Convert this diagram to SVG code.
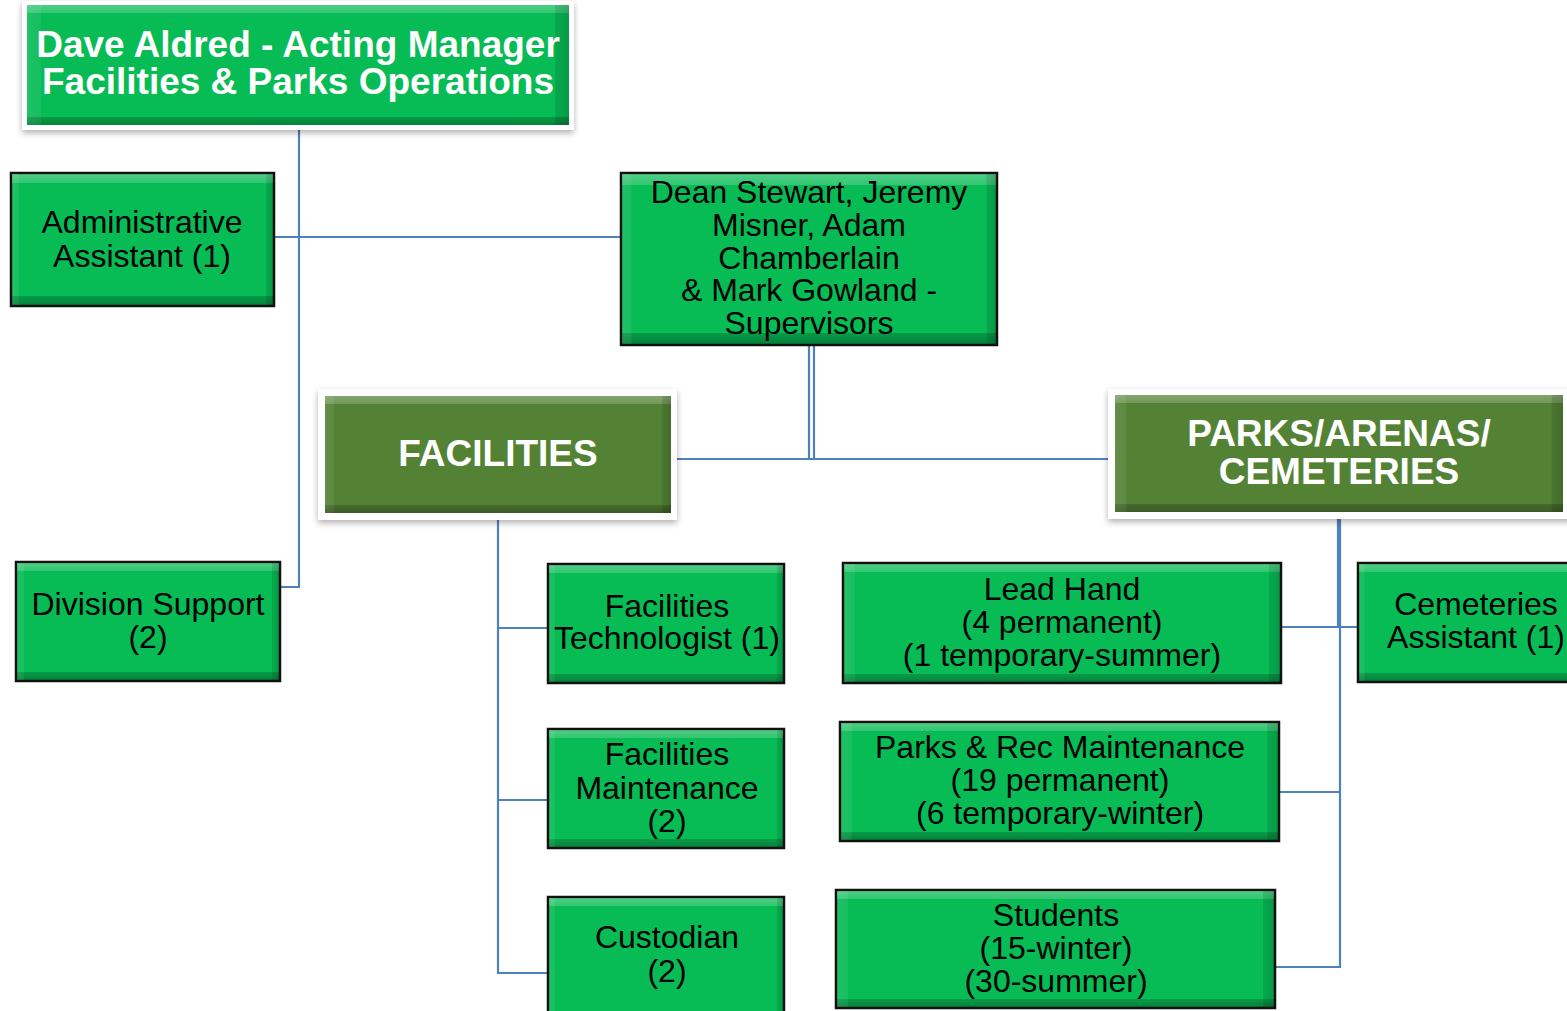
<svg xmlns="http://www.w3.org/2000/svg" width="1567" height="1011" viewBox="0 0 1567 1011">
<defs>
<linearGradient id="bevV" x1="0" y1="0" x2="0" y2="1">
<stop offset="0" stop-color="#ffffff" stop-opacity="0.28"/>
<stop offset="0.065" stop-color="#ffffff" stop-opacity="0.18"/>
<stop offset="0.066" stop-color="#ffffff" stop-opacity="0"/>
<stop offset="0.934" stop-color="#000000" stop-opacity="0"/>
<stop offset="0.935" stop-color="#000000" stop-opacity="0.18"/>
<stop offset="1" stop-color="#000000" stop-opacity="0.3"/>
</linearGradient>
<linearGradient id="bevH" x1="0" y1="0" x2="1" y2="0">
<stop offset="0" stop-color="#ffffff" stop-opacity="0.1"/>
<stop offset="0.025" stop-color="#ffffff" stop-opacity="0.06"/>
<stop offset="0.026" stop-color="#ffffff" stop-opacity="0"/>
<stop offset="0.974" stop-color="#000000" stop-opacity="0"/>
<stop offset="0.975" stop-color="#000000" stop-opacity="0.1"/>
<stop offset="1" stop-color="#000000" stop-opacity="0.18"/>
</linearGradient>
<filter id="shadow" x="-10%" y="-10%" width="120%" height="130%">
<feDropShadow dx="0" dy="3" stdDeviation="3" flood-color="#000" flood-opacity="0.3"/>
</filter>
<style>
.lt{fill:#07bb55;stroke:#111;stroke-width:2.5}
.dk{fill:#548235;stroke:none}
.frame{fill:#ffffff;filter:url(#shadow)}
.bv{fill:url(#bevV);stroke:none}
.bh{fill:url(#bevH);stroke:none}
.t{font-family:"Liberation Sans",Arial,sans-serif;font-size:32px;fill:#000;text-anchor:middle}
.tb{font-family:"Liberation Sans",Arial,sans-serif;font-size:37px;font-weight:bold;fill:#fff;text-anchor:middle}
.c{fill:none;stroke:#4f81bd;stroke-width:2.2}
</style>
</defs>

<g id="connectors">
<path class="c" d="M299,130 V587 H280"/>
<path class="c" d="M274,237 H621"/>
<path class="c" d="M809,345 V459 M814,345 V459"/>
<path class="c" d="M677,459 H1108"/>
<path class="c" d="M498,520 V973 H548 M498,628 H548 M498,800 H548"/>
<path class="c" d="M1340,518 V967 H1275 M1338,518 V628 M1282,627 H1358 M1279,792 H1340"/>
</g>

<g id="manager">
<rect class="frame" x="22" y="1" width="552" height="129"/>
<rect x="27" y="5" width="542" height="120" fill="#07bb55"/>
<rect class="bv" x="27" y="5" width="542" height="120"/>
<rect class="bh" x="27" y="5" width="542" height="120"/>
<text class="tb" x="298" y="57">Dave Aldred - Acting Manager</text>
<text class="tb" x="298" y="94">Facilities &amp; Parks Operations</text>
</g>

<g id="admin">
<rect class="lt" x="11" y="173" width="263" height="133"/>
<rect class="bv" x="12" y="174" width="261" height="131"/>
<rect class="bh" x="12" y="174" width="261" height="131"/>
<text class="t" x="142" y="233">Administrative</text>
<text class="t" x="142" y="267">Assistant (1)</text>
</g>

<g id="supervisors">
<rect class="lt" x="621" y="173" width="376" height="172"/>
<rect class="bv" x="622" y="174" width="374" height="170"/>
<rect class="bh" x="622" y="174" width="374" height="170"/>
<text class="t" x="809" y="203">Dean Stewart, Jeremy</text>
<text class="t" x="809" y="236">Misner, Adam</text>
<text class="t" x="809" y="269">Chamberlain</text>
<text class="t" x="809" y="301">&amp; Mark Gowland -</text>
<text class="t" x="809" y="334">Supervisors</text>
</g>

<g id="facilities">
<rect class="frame" x="318" y="389" width="359" height="131"/>
<rect class="dk" x="325" y="396" width="346" height="117"/>
<rect class="bv" x="325" y="396" width="346" height="117"/>
<rect class="bh" x="325" y="396" width="346" height="117"/>
<text class="tb" x="498" y="466">FACILITIES</text>
</g>

<g id="parks">
<rect class="frame" x="1108" y="389" width="470" height="130"/>
<rect class="dk" x="1115" y="395" width="448" height="117"/>
<rect class="bv" x="1115" y="395" width="448" height="117"/>
<rect class="bh" x="1115" y="395" width="448" height="117"/>
<text class="tb" x="1339" y="446">PARKS/ARENAS/</text>
<text class="tb" x="1339" y="484">CEMETERIES</text>
</g>

<g id="division">
<rect class="lt" x="16" y="562" width="264" height="119"/>
<rect class="bv" x="17" y="563" width="262" height="117"/>
<rect class="bh" x="17" y="563" width="262" height="117"/>
<text class="t" x="148" y="615">Division Support</text>
<text class="t" x="148" y="648">(2)</text>
</g>

<g id="technologist">
<rect class="lt" x="548" y="564" width="236" height="119"/>
<rect class="bv" x="549" y="565" width="234" height="117"/>
<rect class="bh" x="549" y="565" width="234" height="117"/>
<text class="t" x="667" y="617">Facilities</text>
<text class="t" x="667" y="649">Technologist (1)</text>
</g>

<g id="fac-maintenance">
<rect class="lt" x="548" y="729" width="236" height="119"/>
<rect class="bv" x="549" y="730" width="234" height="117"/>
<rect class="bh" x="549" y="730" width="234" height="117"/>
<text class="t" x="667" y="765">Facilities</text>
<text class="t" x="667" y="799">Maintenance</text>
<text class="t" x="667" y="832">(2)</text>
</g>

<g id="custodian">
<rect class="lt" x="548" y="897" width="236" height="125"/>
<rect class="bv" x="549" y="898" width="234" height="123"/>
<rect class="bh" x="549" y="898" width="234" height="123"/>
<text class="t" x="667" y="948">Custodian</text>
<text class="t" x="667" y="982">(2)</text>
</g>

<g id="leadhand">
<rect class="lt" x="843" y="563" width="438" height="120"/>
<rect class="bv" x="844" y="564" width="436" height="118"/>
<rect class="bh" x="844" y="564" width="436" height="118"/>
<text class="t" x="1062" y="600">Lead Hand</text>
<text class="t" x="1062" y="633">(4 permanent)</text>
<text class="t" x="1062" y="666">(1 temporary-summer)</text>
</g>

<g id="parks-maintenance">
<rect class="lt" x="840" y="722" width="439" height="119"/>
<rect class="bv" x="841" y="723" width="437" height="117"/>
<rect class="bh" x="841" y="723" width="437" height="117"/>
<text class="t" x="1060" y="758">Parks &amp; Rec Maintenance</text>
<text class="t" x="1060" y="791">(19 permanent)</text>
<text class="t" x="1060" y="824">(6 temporary-winter)</text>
</g>

<g id="students">
<rect class="lt" x="836" y="890" width="439" height="118"/>
<rect class="bv" x="837" y="891" width="437" height="116"/>
<rect class="bh" x="837" y="891" width="437" height="116"/>
<text class="t" x="1056" y="926">Students</text>
<text class="t" x="1056" y="959">(15-winter)</text>
<text class="t" x="1056" y="992">(30-summer)</text>
</g>

<g id="cemeteries">
<rect class="lt" x="1358" y="563" width="220" height="119"/>
<rect class="bv" x="1359" y="564" width="218" height="117"/>
<rect class="bh" x="1359" y="564" width="218" height="117"/>
<text class="t" x="1476" y="615">Cemeteries</text>
<text class="t" x="1476" y="648">Assistant (1)</text>
</g>
</svg>
